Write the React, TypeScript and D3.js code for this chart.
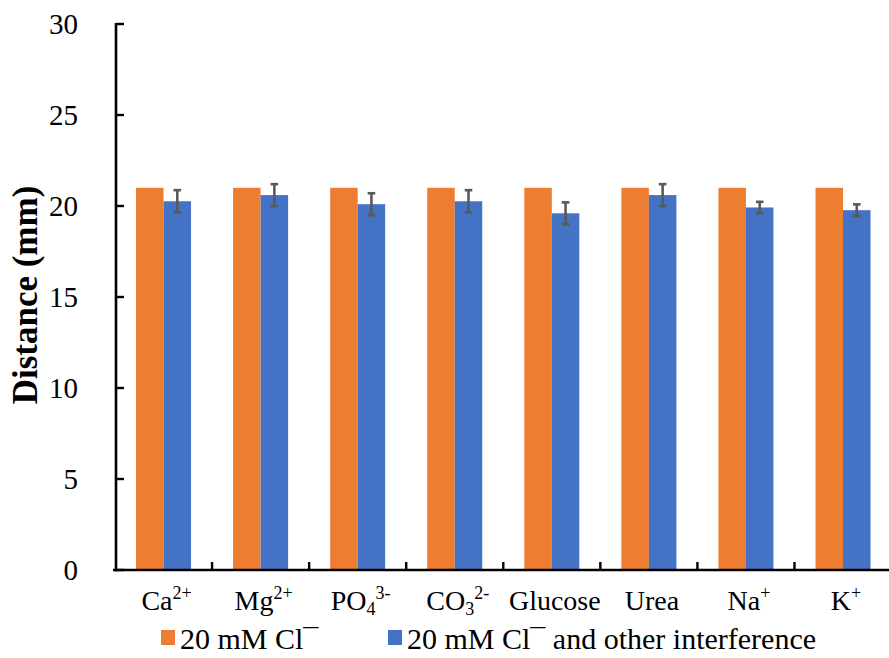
import React from "react";
import * as d3 from "d3";

const categories = ["Ca", "Mg", "PO4", "CO3", "Glucose", "Urea", "Na", "K"];
const labelBase = ["Ca", "Mg", "PO", "CO", "Glucose", "Urea", "Na", "K"];
const labelSub = ["", "", "4", "3", "", "", "", ""];
const labelSup = ["2+", "2+", "3-", "2-", "", "", "+", "+"];
const seriesNames = ["20 mM Cl", "20 mM Cl and other interference"];
const seriesKeys = ["cl", "mix"];
const clValues = [21, 21, 21, 21, 21, 21, 21, 21];
const mixValues = [20.26, 20.6, 20.1, 20.26, 19.6, 20.6, 19.92, 19.77];
const mixErrors = [0.61, 0.6, 0.6, 0.61, 0.6, 0.6, 0.31, 0.32];
const yTicks = [0, 5, 10, 15, 20, 25, 30];
const colors = ["#ED7D31", "#4472C4"];

const W = 889;
const H = 658;
const FONT = "'Liberation Serif', 'Times New Roman', Times, serif";

export default function App() {
  const x0 = 115;
  const step = 97.07;
  const x = d3
    .scaleBand<string>()
    .domain(categories)
    .range([x0, x0 + step * categories.length])
    .paddingInner(0)
    .paddingOuter(0);
  const xs = d3
    .scaleBand<string>()
    .domain(seriesKeys)
    .range([0, x.bandwidth()])
    .paddingInner(0)
    .paddingOuter(0.765);
  const y = d3.scaleLinear().domain([0, 30]).range([570, 24]);

  const series = [clValues, mixValues];

  return (
    <svg
      width={W}
      height={H}
      style={{ position: "absolute", left: 0, top: 0, background: "#fff" }}
      fontFamily={FONT}
    >
      {/* bars */}
      {categories.map((c, i) => (
        <g key={c} transform={`translate(${x(c)},0)`}>
          {series.map((vals, s) => (
            <rect
              key={s}
              x={xs(seriesKeys[s])}
              y={y(vals[i])}
              width={xs.bandwidth()}
              height={y(0) - y(vals[i])}
              fill={colors[s]}
            />
          ))}
          {(() => {
            const cx = (xs("mix") as number) + xs.bandwidth() / 2;
            const top = y(mixValues[i] + mixErrors[i]);
            const bot = y(mixValues[i] - mixErrors[i]);
            return (
              <g stroke="#595959" strokeWidth={2.6}>
                <line x1={cx} x2={cx} y1={top} y2={bot} />
                <line x1={cx - 3.8} x2={cx + 3.8} y1={top} y2={top} />
                <line x1={cx - 3.8} x2={cx + 3.8} y1={bot} y2={bot} />
              </g>
            );
          })()}
        </g>
      ))}

      {/* y axis */}
      <line x1={116} x2={116} y1={y(30) - 1} y2={y(0) + 1.3} stroke="#000" strokeWidth={2.6} />
      {yTicks.map((t) => (
        <g key={t}>
          <line x1={116} x2={124} y1={y(t)} y2={y(t)} stroke="#000" strokeWidth={2.4} />
          <text
            x={78}
            y={y(t)}
            dy="0.35em"
            textAnchor="end"
            fontSize={29}
            fill="#000"
          >
            {t}
          </text>
        </g>
      ))}

      {/* x axis */}
      <line x1={113} x2={W} y1={y(0)} y2={y(0)} stroke="#000" strokeWidth={2.6} />
      {categories.slice(1).map((c) => (
        <line
          key={c}
          x1={x(c)}
          x2={x(c)}
          y1={y(0)}
          y2={y(0) - 8}
          stroke="#000"
          strokeWidth={2.4}
        />
      ))}
      {categories.map((c, i) => (
        <text
          key={c}
          x={(x(c) as number) + x.bandwidth() / 2 + 3}
          y={610}
          textAnchor="middle"
          fontSize={28}
          fill="#000"
        >
          {labelBase[i]}
          {labelSub[i] && (
            <tspan fontSize={18} dy={5}>
              {labelSub[i]}
            </tspan>
          )}
          {labelSup[i] && (
            <tspan fontSize={18} dy={labelSub[i] ? -16 : -11}>
              {labelSup[i]}
            </tspan>
          )}
        </text>
      ))}

      {/* y title */}
      <text
        transform={`translate(37,295) rotate(-90)`}
        textAnchor="middle"
        fontSize={35}
        fontWeight="bold"
        fill="#000"
      >
        Distance (mm)
      </text>

      {/* legend */}
      {seriesNames.map((name, s) => {
        const lx = s === 0 ? 161 : 388;
        return (
          <g key={name}>
            <rect x={lx} y={630} width={14} height={15} fill={colors[s]} />
            <text x={lx + 19} y={649} fontSize={30} fill="#000">
              20 mM Cl
              <tspan>¯</tspan>
              {s === 1 ? " and other interference" : ""}
            </text>
          </g>
        );
      })}
    </svg>
  );
}
